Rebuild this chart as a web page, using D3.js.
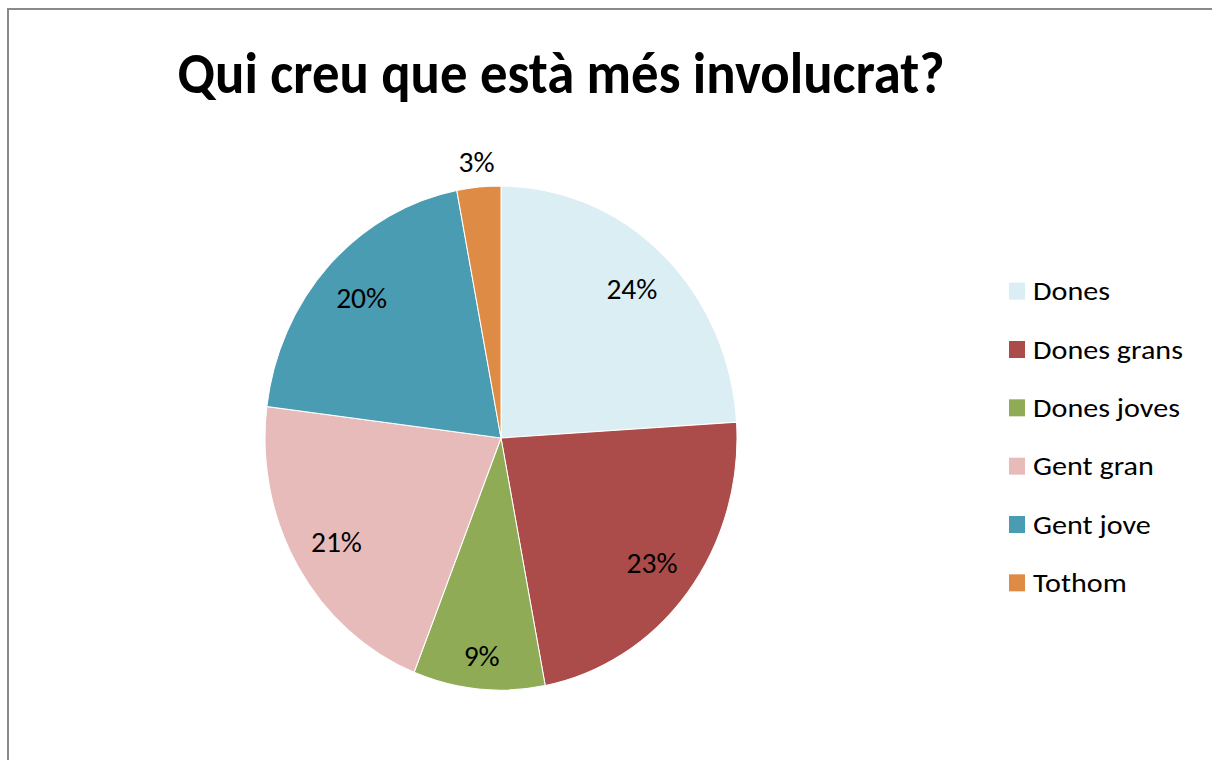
<!DOCTYPE html>
<html>
<head>
<meta charset="utf-8">
<script src="https://cdn.jsdelivr.net/npm/d3@7"></script>
<style>
  body { margin: 0; background: #fff; }
  text { font-family: Carlito, Lato, "Open Sans", sans-serif; fill: #000; }
</style>
</head>
<body>
<script>
// chart data
var categories = ["Dones", "Dones grans", "Dones joves", "Gent gran", "Gent jove", "Tothom"];
var values = [24, 23, 9, 21, 20, 3];
var colors = ["#dbeef4", "#ab4b4a", "#8fab56", "#e8bbbb", "#4a9cb3", "#de8b45"];
var title = "Qui creu que està més involucrat?";

var width = 1212, height = 760;
var cx = 501, cy = 438, r = 236;
var stretch = 252 / 236; // picture is a little taller than wide

var svg = d3.select("body").append("svg")
    .attr("width", width)
    .attr("height", height);

// outer frame (right and bottom edges are off the picture)
svg.append("rect")
    .attr("x", 8).attr("y", 9)
    .attr("width", 1400).attr("height", 900)
    .attr("fill", "#fff")
    .attr("stroke", "#8a8a8a")
    .attr("stroke-width", 2);

// title, fitted to the width it has in the picture
var t = svg.append("text")
    .attr("text-anchor", "middle")
    .attr("font-weight", "bold")
    .attr("font-size", 44)
    .attr("transform", "translate(561," + 93 + ") scale(1," + stretch + ")")
    .text(title);
var tw = t.node().getComputedTextLength();
t.attr("font-size", 44 * 767 / tw);

var data = categories.map(function(c, i) {
  return { name: c, value: values[i], color: colors[i] };
});

var pie = d3.pie().sort(null).value(function(d) { return d.value; });
var arcs = pie(data);
var arc = d3.arc().innerRadius(0).outerRadius(r);

var g = svg.append("g")
    .attr("transform", "translate(" + cx + "," + cy + ") scale(1," + stretch + ")");

g.selectAll("path")
  .data(arcs)
  .enter()
  .append("path")
  .attr("d", arc)
  .attr("fill", function(d) { return d.data.color; })
  .attr("stroke", "#fff")
  .attr("stroke-width", 1);

// percent labels
function labelRadius(d) {
  if (d.data.value < 5) return r * 1.1;
  if (d.data.value < 10) return r * 0.87;
  return r * 0.81;
}

var labels = svg.selectAll("text.pct")
  .data(arcs)
  .enter()
  .append("text")
  .attr("class", "pct")
  .attr("text-anchor", "middle")
  .attr("font-size", 26)
  .attr("fill", "#000")
  .text(function(d) { return d.data.value + "%"; });

// widen the glyphs so "24%" is as wide as in the picture
var lw = labels.filter(function(d) { return d.data.value == 24; }).node().getComputedTextLength();
var lsx = Math.max(1, 51 / lw);
labels.attr("transform", function(d) {
  var a = (d.startAngle + d.endAngle) / 2;
  var lr = labelRadius(d);
  var x = cx + lr * Math.sin(a);
  var y = cy - lr * Math.cos(a) * stretch;
  return "translate(" + x + "," + (y + 10) + ") scale(" + lsx + "," + stretch + ")";
});

// legend
var legend = svg.append("g");
var rowY = d3.scaleBand().domain(categories).range([262, 612]);

var items = legend.selectAll("g")
  .data(data)
  .enter()
  .append("g")
  .attr("transform", function(d) {
    return "translate(1009," + (rowY(d.name) + rowY.bandwidth() / 2) + ")";
  });

items.append("rect")
  .attr("x", 0).attr("y", -8.5)
  .attr("width", 16).attr("height", 17)
  .attr("fill", function(d) { return d.color; });

var ltext = items.append("text")
  .attr("font-size", 24)
  .text(function(d) { return d.name; });

var gw = ltext.filter(function(d) { return d.name == "Dones grans"; }).node().getComputedTextLength();
var gsx = Math.max(1, 150 / gw);
ltext.attr("transform", "translate(24,9) scale(" + gsx + "," + stretch + ")");
</script>
</body>
</html>
